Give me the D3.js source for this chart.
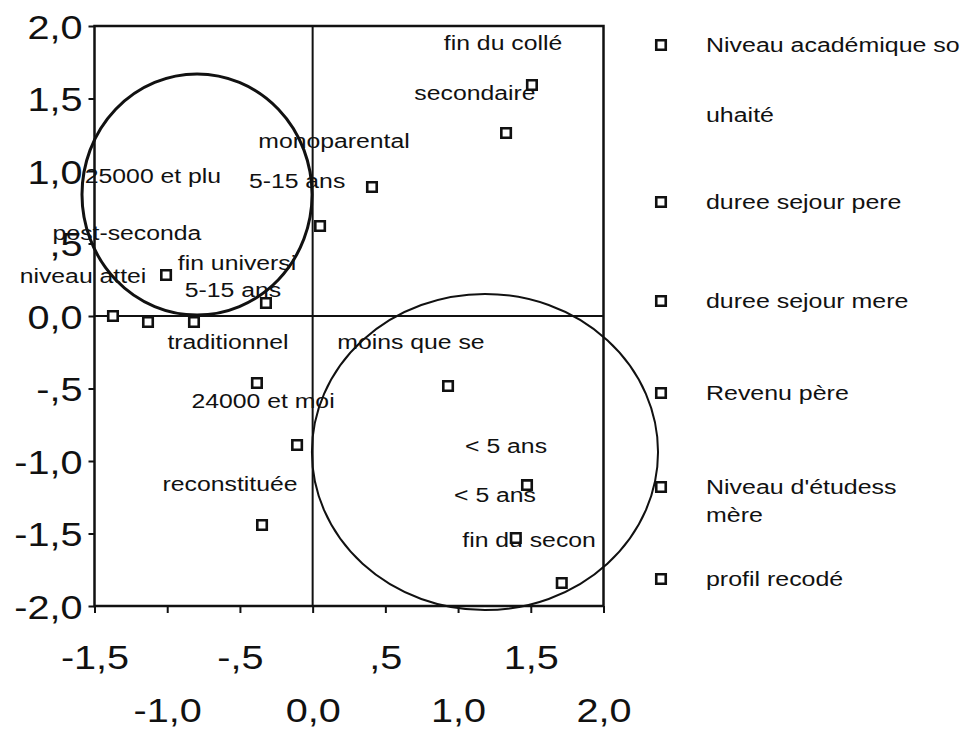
<!DOCTYPE html>
<html><head><meta charset="utf-8">
<script src="https://cdn.jsdelivr.net/npm/d3@7"></script>
<style>html,body{margin:0;padding:0;background:#fff;} svg{display:block;font-family:"Liberation Sans",Arial,Helvetica,sans-serif;}</style>
</head><body><svg id="c" width="962" height="729"></svg>
<script>
// ---- data ----
const pointX = [1.508, 1.330, 0.408, 0.051, -1.008, -0.321, -1.373, -1.132, -0.816, -0.383, -0.107, -0.348, 0.931, 1.474, 1.397, 1.713];
const pointY = [1.593, 1.262, 0.890, 0.621, 0.283, 0.090, 0.000, -0.041, -0.041, -0.462, -0.890, -1.441, -0.483, -1.166, -1.531, -1.841];

const labelText = ["fin du collé", "secondaire", "monoparental", "5-15 ans", "25000 et plu", "post-seconda",
  "niveau attei", "fin universi", "5-15 ans", "traditionnel", "moins que se", "24000 et moi",
  "< 5 ans", "< 5 ans", "reconstituée", "fin du secon"];
const labelX = [1.309, 1.116, 0.147, -0.107, -1.098, -1.277, -1.579, -0.520, -0.548, -0.582, 0.676, -0.341, 1.330, 1.254, -0.568, 1.488];
const labelY = [1.834, 1.490, 1.159, 0.883, 0.917, 0.524, 0.228, 0.317, 0.131, -0.228, -0.228, -0.634, -0.945, -1.283, -1.207, -1.593];

const ellipseCX = [-0.795, 1.185];
const ellipseCY = [0.838, -0.938];
const ellipseRX = [0.791, 1.190];
const ellipseRY = [0.831, 1.090];

const xTickValues = [-1.5, -1.0, -0.5, 0.0, 0.5, 1.0, 1.5, 2.0];
const yTickValues = [-2.0, -1.5, -1.0, -0.5, 0.0, 0.5, 1.0, 1.5, 2.0];

const legendItems = [["Niveau académique so", "uhaité"], ["duree sejour pere"], ["duree sejour mere"],
  ["Revenu père"], ["Niveau d'étudess", "mère"], ["profil recodé"]];

// ---- layout ----
const svg = d3.select("#c");
const x = d3.scaleLinear().domain([-1.5, 2.0]).range([94.5, 603.5]);
const y = d3.scaleLinear().domain([-2.0, 2.0]).range([606, 26]);

const frmt = v => {
  const s = d3.format(".1f")(Math.abs(v)).replace(".", ",");
  const t = (Math.abs(v) < 1 && v !== 0) ? s.replace(/^0/, "") : s;
  return (v < 0 ? "-" : "") + t;
};

// ellipses
const ell = svg.append("g");
ellipseCX.forEach((cx, i) => {
  ell.append("ellipse")
    .attr("cx", x(cx)).attr("cy", y(ellipseCY[i]))
    .attr("rx", x(cx + ellipseRX[i]) - x(cx))
    .attr("ry", y(ellipseCY[i]) - y(ellipseCY[i] + ellipseRY[i]))
    .attr("fill", "none").attr("stroke", "#111")
    .attr("stroke-width", i === 0 ? 3 : 2);
});

// frame
svg.append("rect")
  .attr("x", x.range()[0]).attr("y", y.range()[1])
  .attr("width", x.range()[1] - x.range()[0])
  .attr("height", y.range()[0] - y.range()[1])
  .attr("fill", "none").attr("stroke", "#111").attr("stroke-width", 2.5);

// zero lines
svg.append("line").attr("x1", x(0)).attr("x2", x(0)).attr("y1", y.range()[0]).attr("y2", y.range()[1])
  .attr("stroke", "#111").attr("stroke-width", 2);
svg.append("line").attr("x1", x.range()[0]).attr("x2", x.range()[1]).attr("y1", y(0)).attr("y2", y(0))
  .attr("stroke", "#111").attr("stroke-width", 2);

// axes
const yAxis = svg.append("g").attr("transform", `translate(${x.range()[0]},0)`)
  .call(d3.axisLeft(y).tickValues(yTickValues).tickSize(6).tickFormat(frmt));
yAxis.select(".domain").remove();
yAxis.selectAll(".tick line").attr("stroke", "#111").attr("stroke-width", 2);
yAxis.selectAll(".tick text")
  .attr("x", null).attr("dy", null)
  .attr("transform", "translate(-12,12) scale(1.2,1)")
  .attr("font-size", 33).attr("fill", "#111")
  .attr("font-family", '"Liberation Sans",Arial,sans-serif');

const xAxis = svg.append("g").attr("transform", `translate(0,${y.range()[0]})`)
  .call(d3.axisBottom(x).tickValues(xTickValues).tickSize(7).tickFormat(frmt));
xAxis.select(".domain").remove();
xAxis.selectAll(".tick line").attr("stroke", "#111").attr("stroke-width", 2);
xAxis.selectAll(".tick text")
  .attr("y", null).attr("dy", null)
  .attr("transform", (d, i) => `translate(0,${i % 2 === 0 ? 63 : 116}) scale(1.2,1)`)
  .attr("font-size", 33).attr("fill", "#111")
  .attr("font-family", '"Liberation Sans",Arial,sans-serif');

// labels
svg.append("g").selectAll("text").data(labelText).join("text")
  .attr("transform", (d, i) => `translate(${x(labelX[i])},${y(labelY[i])}) scale(1.18,1)`)
  .attr("text-anchor", "middle").attr("font-size", 21).attr("fill", "#111")
  .text(d => d);

// points
const sym = d3.symbol(d3.symbolSquare, 90);
svg.append("g").selectAll("path").data(pointX).join("path")
  .attr("d", sym)
  .attr("transform", (d, i) => `translate(${x(d)},${y(pointY[i])})`)
  .attr("fill", "#fff").attr("stroke", "#111").attr("stroke-width", 2.6);

// legend
const legendRowY = [45, 202, 301, 393, 487, 579];
const legendLineDy = [[0, 70], [0], [0], [0], [0, 28], [0]];
const lg = svg.append("g");
legendItems.forEach((lines, i) => {
  lg.append("path").attr("d", sym)
    .attr("transform", `translate(661,${legendRowY[i]})`)
    .attr("fill", "#fff").attr("stroke", "#111").attr("stroke-width", 2.6);
  lines.forEach((ln, j) => {
    lg.append("text")
      .attr("transform", `translate(706,${legendRowY[i] + 7 + legendLineDy[i][j]}) scale(1.28,1)`)
      .attr("font-size", 19.5).attr("fill", "#111").text(ln);
  });
});
</script></body></html>
